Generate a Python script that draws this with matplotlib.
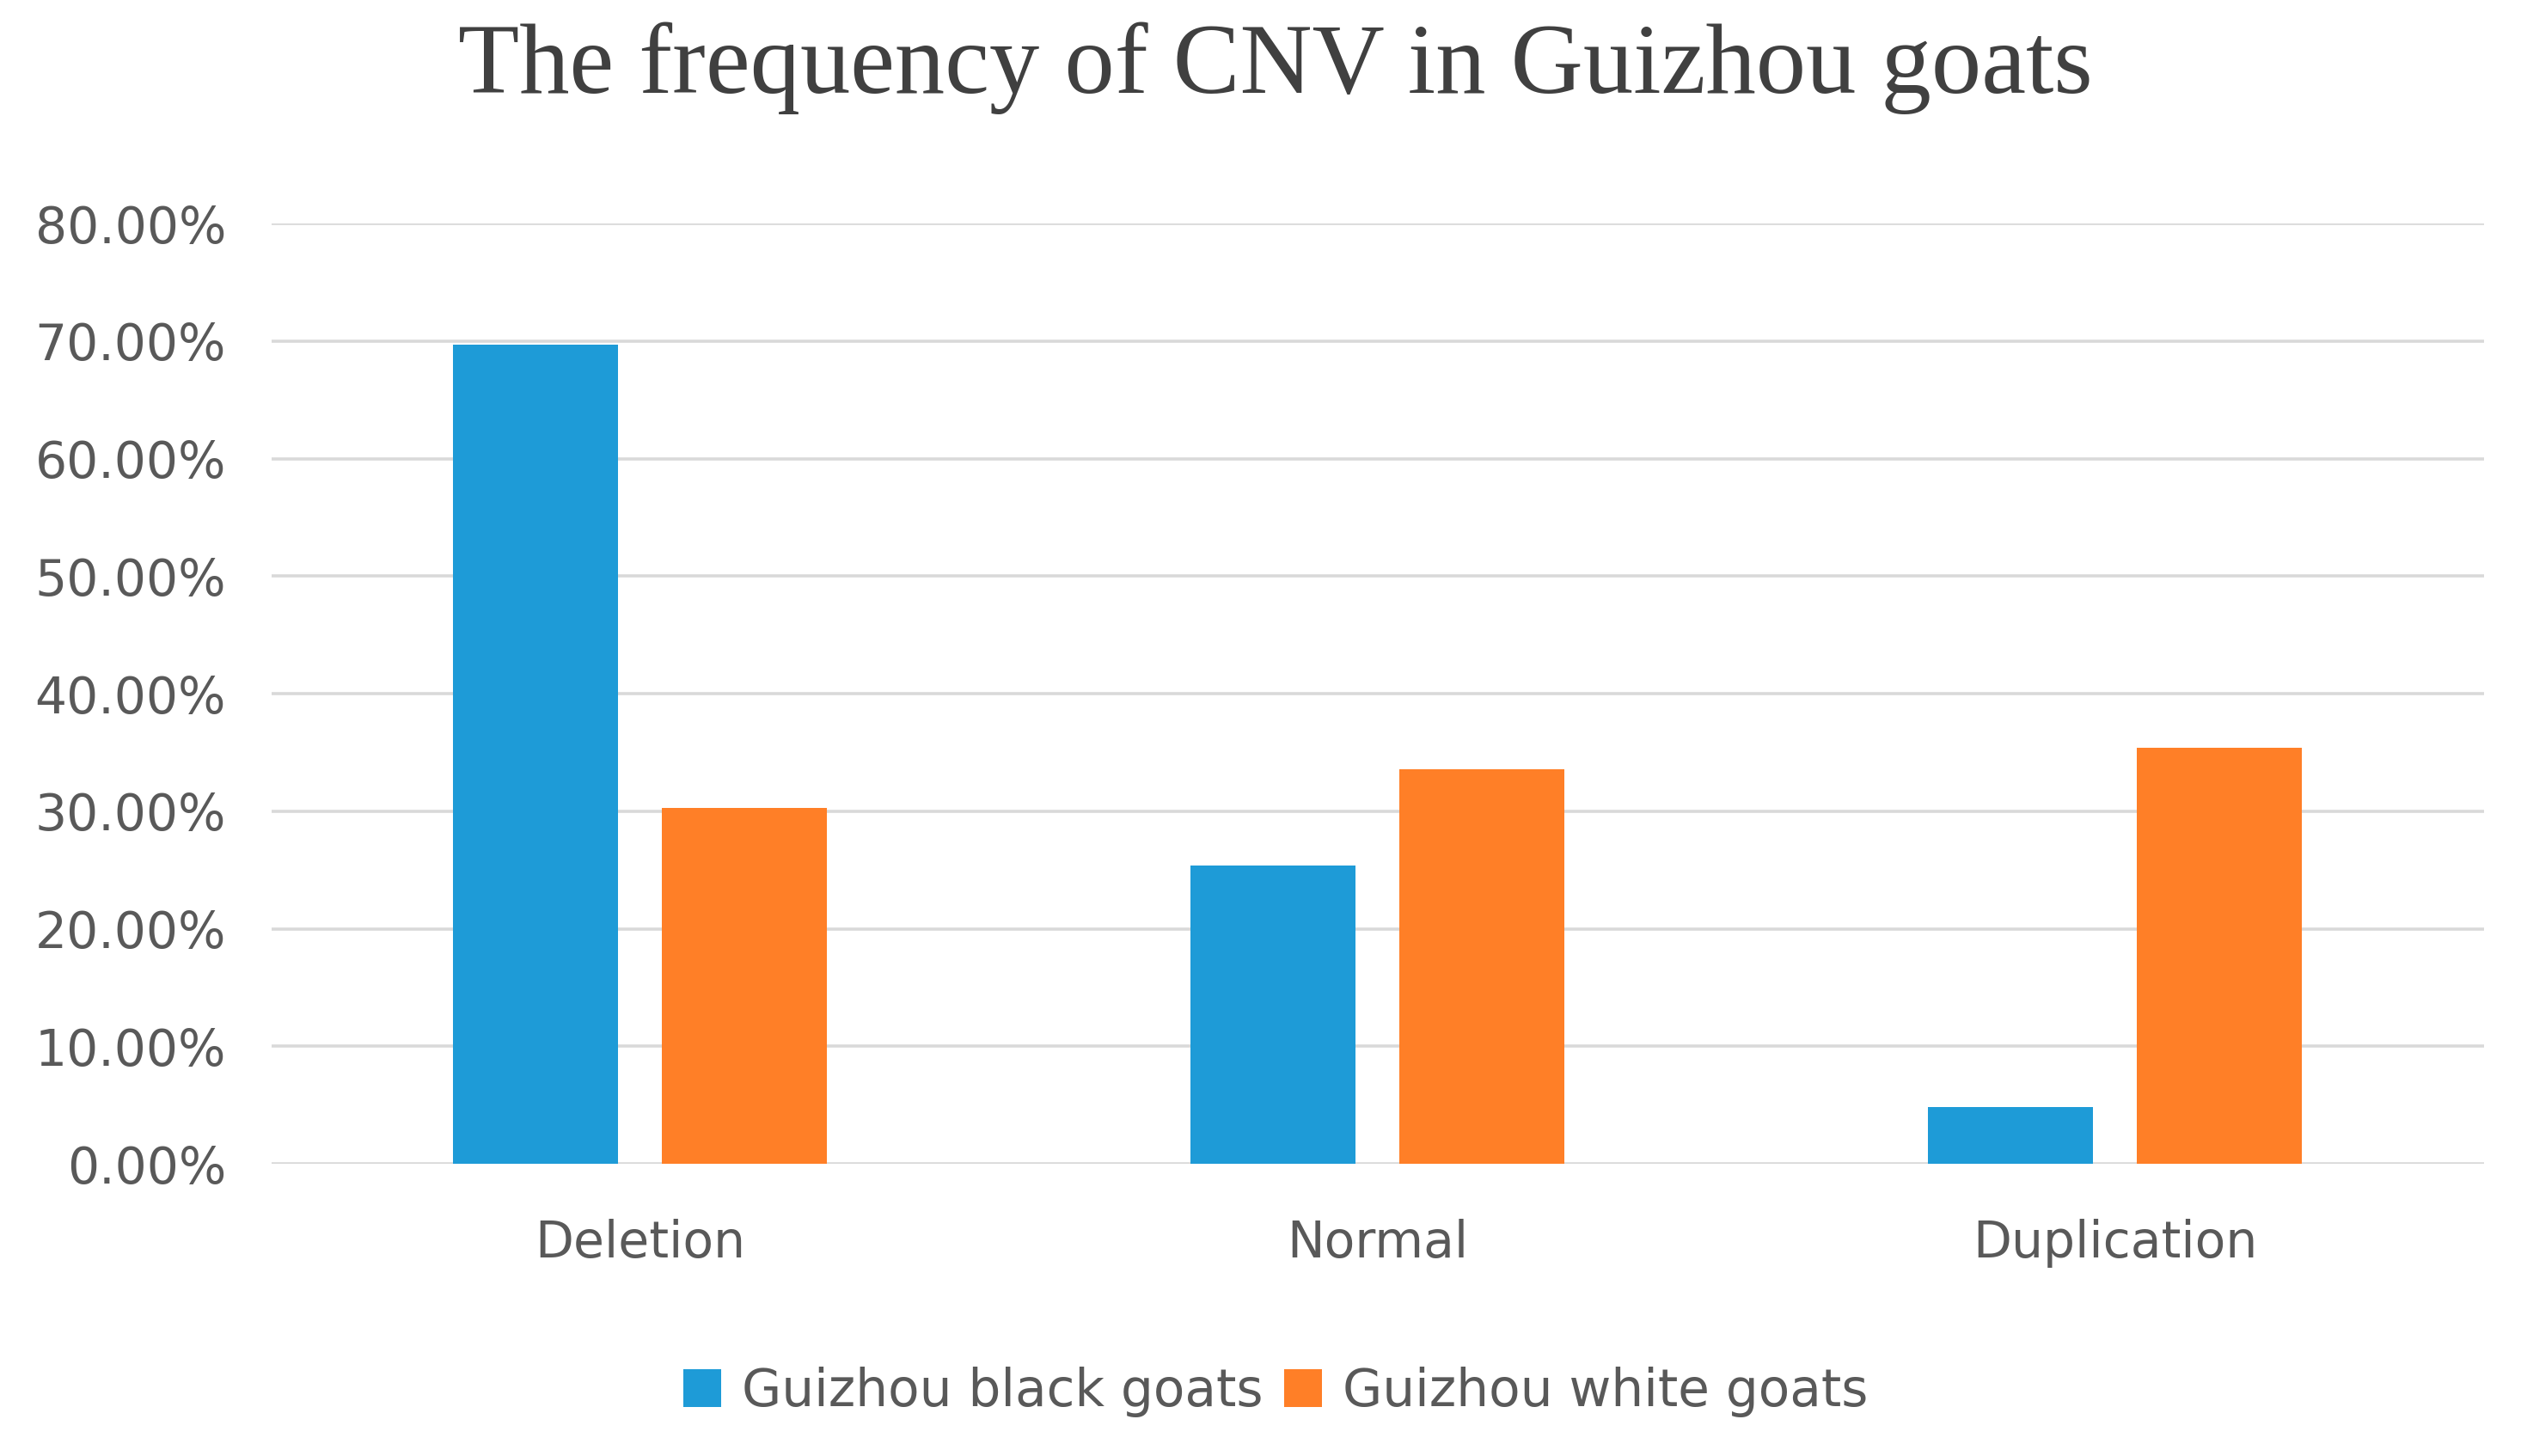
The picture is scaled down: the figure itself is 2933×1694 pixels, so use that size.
import matplotlib
matplotlib.use("Agg")
from matplotlib import pyplot as plt
from matplotlib.ticker import PercentFormatter
import numpy as np

categories = ["Deletion", "Normal", "Duplication"]
black_goats = [69.7, 25.35, 4.8]   # Guizhou black goats (%)
white_goats = [30.3, 33.6, 35.4]   # Guizhou white goats (%)
series_names = ["Guizhou black goats", "Guizhou white goats"]
title = "The frequency of CNV in Guizhou goats"

fig = plt.figure(figsize=(29.33, 16.94), dpi=100)
ax = fig.add_axes([0.1077, 0.2007, 0.8775, 0.6458])

x = np.arange(len(categories))
w = 0.224
off = 0.1416
ax.bar(x - off, black_goats, w, color="#1E9BD7", label=series_names[0], zorder=3)
ax.bar(x + off, white_goats, w, color="#FF7F27", label=series_names[1], zorder=3)

ax.set_xlim(-0.5, 2.5)
ax.set_ylim(0, 80)
ax.set_yticks(np.arange(0, 81, 10))
ax.yaxis.set_major_formatter(PercentFormatter(decimals=2))
ax.set_xticks(x)
ax.set_xticklabels(categories)

ax.grid(axis="y", color="#D9D9D9", linewidth=2.6, zorder=0)
for s in ax.spines.values():
    s.set_visible(False)
ax.tick_params(axis="both", length=0, labelsize=42, labelcolor="#595959")
ax.tick_params(axis="y", pad=38)
ax.tick_params(axis="x", pad=46)

fig.text(0.506, 0.953, title, ha="center", va="center",
         family="Liberation Serif", fontsize=84, color="#404040")

fig.legend(loc="center", bbox_to_anchor=(0.506, 0.044), ncol=2, frameon=False,
           fontsize=43, labelcolor="#595959", handlelength=0.75, handleheight=0.75,
           handletextpad=0.4, columnspacing=0.4)

fig.savefig("out.png", dpi=100)
